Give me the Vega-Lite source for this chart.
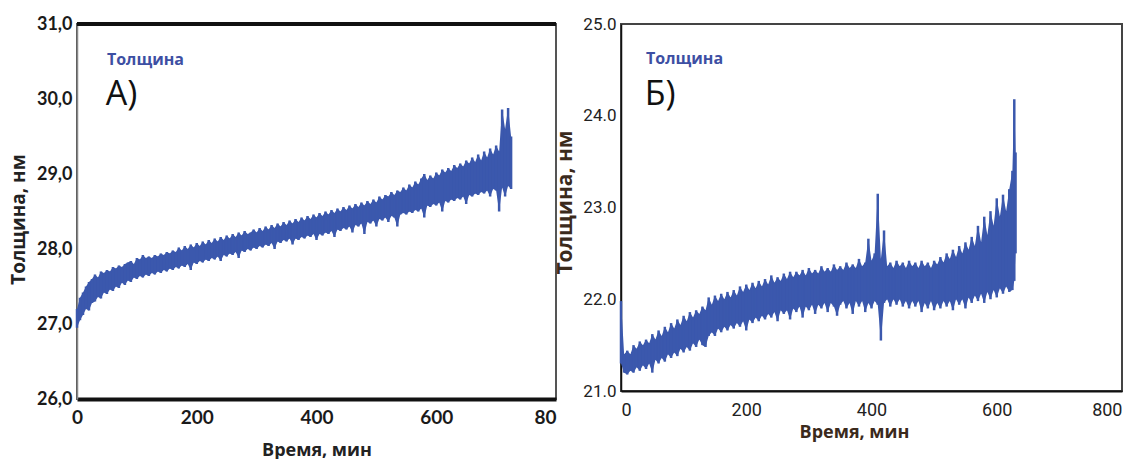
{
  "$schema": "https://vega.github.io/schema/vega-lite/v6.json",
  "background": "white",
  "padding": {"left": 8, "top": 14, "right": 10, "bottom": 5},
  "spacing": 65,
  "bounds": "flush",
  "config": {
    "axis": {"grid": false, "ticks": false}
  },
  "datasets": {
    "A": [
      {"t":0,"lo":26.95,"hi":27.2},{"t":5,"lo":27.05,"hi":27.35},{"t":10,"lo":27.12,"hi":27.42},{"t":15,"lo":27.2,"hi":27.5},
      {"t":20,"lo":27.18,"hi":27.56},{"t":25,"lo":27.28,"hi":27.6},{"t":30,"lo":27.3,"hi":27.66},{"t":35,"lo":27.36,"hi":27.62},
      {"t":40,"lo":27.34,"hi":27.7},{"t":45,"lo":27.42,"hi":27.68},{"t":50,"lo":27.4,"hi":27.72},{"t":55,"lo":27.46,"hi":27.7},
      {"t":60,"lo":27.44,"hi":27.76},{"t":65,"lo":27.5,"hi":27.74},{"t":70,"lo":27.48,"hi":27.78},{"t":75,"lo":27.55,"hi":27.76},
      {"t":80,"lo":27.52,"hi":27.8},{"t":85,"lo":27.58,"hi":27.82},{"t":90,"lo":27.56,"hi":27.84},{"t":95,"lo":27.62,"hi":27.8},
      {"t":100,"lo":27.6,"hi":27.88},{"t":105,"lo":27.64,"hi":27.86},{"t":110,"lo":27.62,"hi":27.92},{"t":115,"lo":27.66,"hi":27.88},
      {"t":120,"lo":27.64,"hi":27.9},{"t":125,"lo":27.68,"hi":27.88},{"t":130,"lo":27.66,"hi":27.92},{"t":135,"lo":27.7,"hi":27.9},
      {"t":140,"lo":27.68,"hi":27.94},{"t":145,"lo":27.72,"hi":27.92},{"t":150,"lo":27.7,"hi":27.96},{"t":155,"lo":27.74,"hi":27.94},
      {"t":160,"lo":27.72,"hi":27.98},{"t":165,"lo":27.76,"hi":27.96},{"t":170,"lo":27.74,"hi":28.02},{"t":175,"lo":27.78,"hi":27.98},
      {"t":180,"lo":27.76,"hi":28.04},{"t":185,"lo":27.8,"hi":28.0},{"t":190,"lo":27.72,"hi":28.06},{"t":195,"lo":27.82,"hi":28.02},
      {"t":200,"lo":27.8,"hi":28.08},{"t":205,"lo":27.84,"hi":28.04},{"t":210,"lo":27.82,"hi":28.1},{"t":215,"lo":27.86,"hi":28.06},
      {"t":220,"lo":27.84,"hi":28.12},{"t":225,"lo":27.88,"hi":28.08},{"t":230,"lo":27.86,"hi":28.14},{"t":235,"lo":27.9,"hi":28.1},
      {"t":240,"lo":27.84,"hi":28.16},{"t":245,"lo":27.92,"hi":28.12},{"t":250,"lo":27.9,"hi":28.18},{"t":255,"lo":27.94,"hi":28.14},
      {"t":260,"lo":27.92,"hi":28.2},{"t":265,"lo":27.96,"hi":28.16},{"t":270,"lo":27.88,"hi":28.22},{"t":275,"lo":27.98,"hi":28.18},
      {"t":280,"lo":27.96,"hi":28.24},{"t":285,"lo":28.0,"hi":28.2},{"t":290,"lo":27.98,"hi":28.22},{"t":295,"lo":28.02,"hi":28.26},
      {"t":300,"lo":28.0,"hi":28.22},{"t":305,"lo":28.04,"hi":28.28},{"t":310,"lo":28.02,"hi":28.24},{"t":315,"lo":28.06,"hi":28.3},
      {"t":320,"lo":28.04,"hi":28.26},{"t":325,"lo":28.08,"hi":28.32},{"t":330,"lo":28.0,"hi":28.28},{"t":335,"lo":28.1,"hi":28.34},
      {"t":340,"lo":28.08,"hi":28.3},{"t":345,"lo":28.12,"hi":28.36},{"t":350,"lo":28.1,"hi":28.32},{"t":355,"lo":28.14,"hi":28.38},
      {"t":360,"lo":28.06,"hi":28.34},{"t":365,"lo":28.14,"hi":28.4},{"t":370,"lo":28.12,"hi":28.36},{"t":375,"lo":28.16,"hi":28.42},
      {"t":380,"lo":28.14,"hi":28.38},{"t":385,"lo":28.18,"hi":28.44},{"t":390,"lo":28.16,"hi":28.4},{"t":395,"lo":28.2,"hi":28.46},
      {"t":400,"lo":28.12,"hi":28.42},{"t":405,"lo":28.2,"hi":28.48},{"t":410,"lo":28.18,"hi":28.44},{"t":415,"lo":28.22,"hi":28.5},
      {"t":420,"lo":28.2,"hi":28.46},{"t":425,"lo":28.24,"hi":28.52},{"t":430,"lo":28.16,"hi":28.48},{"t":435,"lo":28.26,"hi":28.54},
      {"t":440,"lo":28.24,"hi":28.5},{"t":445,"lo":28.28,"hi":28.56},{"t":450,"lo":28.26,"hi":28.52},{"t":455,"lo":28.3,"hi":28.58},
      {"t":460,"lo":28.22,"hi":28.54},{"t":465,"lo":28.32,"hi":28.6},{"t":470,"lo":28.3,"hi":28.56},{"t":475,"lo":28.34,"hi":28.62},
      {"t":480,"lo":28.2,"hi":28.58},{"t":485,"lo":28.36,"hi":28.64},{"t":490,"lo":28.34,"hi":28.6},{"t":495,"lo":28.38,"hi":28.66},
      {"t":500,"lo":28.3,"hi":28.62},{"t":505,"lo":28.4,"hi":28.7},{"t":510,"lo":28.38,"hi":28.66},{"t":515,"lo":28.42,"hi":28.72},
      {"t":520,"lo":28.36,"hi":28.7},{"t":525,"lo":28.44,"hi":28.76},{"t":530,"lo":28.42,"hi":28.72},{"t":535,"lo":28.3,"hi":28.78},
      {"t":540,"lo":28.46,"hi":28.76},{"t":545,"lo":28.48,"hi":28.82},{"t":550,"lo":28.46,"hi":28.78},{"t":555,"lo":28.5,"hi":28.86},
      {"t":560,"lo":28.48,"hi":28.82},{"t":565,"lo":28.52,"hi":28.9},{"t":570,"lo":28.5,"hi":28.86},{"t":575,"lo":28.54,"hi":28.94},
      {"t":580,"lo":28.42,"hi":29.0},{"t":585,"lo":28.58,"hi":28.92},{"t":590,"lo":28.56,"hi":28.98},{"t":595,"lo":28.6,"hi":28.94},
      {"t":600,"lo":28.58,"hi":29.02},{"t":605,"lo":28.62,"hi":28.98},{"t":610,"lo":28.5,"hi":29.06},{"t":615,"lo":28.64,"hi":29.02},
      {"t":620,"lo":28.62,"hi":29.08},{"t":625,"lo":28.66,"hi":29.04},{"t":630,"lo":28.64,"hi":29.12},{"t":635,"lo":28.68,"hi":29.08},
      {"t":640,"lo":28.66,"hi":29.14},{"t":645,"lo":28.7,"hi":29.1},{"t":650,"lo":28.6,"hi":29.18},{"t":655,"lo":28.72,"hi":29.14},
      {"t":660,"lo":28.7,"hi":29.22},{"t":665,"lo":28.74,"hi":29.16},{"t":670,"lo":28.72,"hi":29.26},{"t":675,"lo":28.76,"hi":29.18},
      {"t":680,"lo":28.74,"hi":29.3},{"t":685,"lo":28.78,"hi":29.22},{"t":690,"lo":28.7,"hi":29.34},{"t":695,"lo":28.8,"hi":29.26},
      {"t":700,"lo":28.78,"hi":29.38},{"t":705,"lo":28.5,"hi":29.3},{"t":710,"lo":28.82,"hi":29.86},{"t":715,"lo":28.7,"hi":29.6},
      {"t":720,"lo":28.84,"hi":29.88},{"t":725,"lo":28.8,"hi":29.5}
    ],
    "B": [
      {"t":0,"lo":21.3,"hi":21.98},{"t":5,"lo":21.2,"hi":21.4},{"t":10,"lo":21.18,"hi":21.44},{"t":15,"lo":21.22,"hi":21.4},
      {"t":20,"lo":21.2,"hi":21.5},{"t":25,"lo":21.26,"hi":21.46},{"t":30,"lo":21.22,"hi":21.54},{"t":35,"lo":21.28,"hi":21.5},
      {"t":40,"lo":21.24,"hi":21.56},{"t":45,"lo":21.3,"hi":21.52},{"t":50,"lo":21.2,"hi":21.62},{"t":55,"lo":21.34,"hi":21.56},
      {"t":60,"lo":21.3,"hi":21.66},{"t":65,"lo":21.36,"hi":21.6},{"t":70,"lo":21.32,"hi":21.7},{"t":75,"lo":21.4,"hi":21.64},
      {"t":80,"lo":21.36,"hi":21.74},{"t":85,"lo":21.42,"hi":21.68},{"t":90,"lo":21.38,"hi":21.78},{"t":95,"lo":21.46,"hi":21.72},
      {"t":100,"lo":21.42,"hi":21.82},{"t":105,"lo":21.48,"hi":21.76},{"t":110,"lo":21.44,"hi":21.86},{"t":115,"lo":21.52,"hi":21.8},
      {"t":120,"lo":21.48,"hi":21.88},{"t":125,"lo":21.56,"hi":21.84},{"t":130,"lo":21.5,"hi":21.92},{"t":135,"lo":21.48,"hi":21.88},
      {"t":140,"lo":21.6,"hi":22.02},{"t":145,"lo":21.64,"hi":21.94},{"t":150,"lo":21.6,"hi":22.04},{"t":155,"lo":21.68,"hi":21.98},
      {"t":160,"lo":21.64,"hi":22.06},{"t":165,"lo":21.7,"hi":22.0},{"t":170,"lo":21.66,"hi":22.08},{"t":175,"lo":21.72,"hi":22.02},
      {"t":180,"lo":21.68,"hi":22.1},{"t":185,"lo":21.74,"hi":22.04},{"t":190,"lo":21.7,"hi":22.14},{"t":195,"lo":21.76,"hi":22.08},
      {"t":200,"lo":21.66,"hi":22.16},{"t":205,"lo":21.78,"hi":22.1},{"t":210,"lo":21.74,"hi":22.18},{"t":215,"lo":21.8,"hi":22.12},
      {"t":220,"lo":21.76,"hi":22.2},{"t":225,"lo":21.82,"hi":22.14},{"t":230,"lo":21.78,"hi":22.22},{"t":235,"lo":21.84,"hi":22.16},
      {"t":240,"lo":21.8,"hi":22.26},{"t":245,"lo":21.86,"hi":22.18},{"t":250,"lo":21.76,"hi":22.24},{"t":255,"lo":21.88,"hi":22.2},
      {"t":260,"lo":21.84,"hi":22.28},{"t":265,"lo":21.88,"hi":22.22},{"t":270,"lo":21.78,"hi":22.3},{"t":275,"lo":21.9,"hi":22.24},
      {"t":280,"lo":21.86,"hi":22.3},{"t":285,"lo":21.92,"hi":22.26},{"t":290,"lo":21.8,"hi":22.32},{"t":295,"lo":21.92,"hi":22.26},
      {"t":300,"lo":21.88,"hi":22.34},{"t":305,"lo":21.94,"hi":22.28},{"t":310,"lo":21.84,"hi":22.32},{"t":315,"lo":21.94,"hi":22.28},
      {"t":320,"lo":21.9,"hi":22.36},{"t":325,"lo":21.96,"hi":22.3},{"t":330,"lo":21.86,"hi":22.34},{"t":335,"lo":21.96,"hi":22.3},
      {"t":340,"lo":21.92,"hi":22.38},{"t":345,"lo":21.82,"hi":22.32},{"t":350,"lo":21.94,"hi":22.36},{"t":355,"lo":21.98,"hi":22.32},
      {"t":360,"lo":21.9,"hi":22.4},{"t":365,"lo":21.96,"hi":22.34},{"t":370,"lo":21.84,"hi":22.38},{"t":375,"lo":21.98,"hi":22.34},
      {"t":380,"lo":21.92,"hi":22.44},{"t":385,"lo":21.98,"hi":22.36},{"t":390,"lo":21.86,"hi":22.4},{"t":395,"lo":21.96,"hi":22.66},
      {"t":400,"lo":21.9,"hi":22.42},{"t":405,"lo":21.98,"hi":22.5},{"t":410,"lo":21.94,"hi":23.15},{"t":415,"lo":21.55,"hi":22.44},
      {"t":420,"lo":21.96,"hi":22.75},{"t":425,"lo":22.0,"hi":22.36},{"t":430,"lo":21.92,"hi":22.4},{"t":435,"lo":22.0,"hi":22.34},
      {"t":440,"lo":21.94,"hi":22.42},{"t":445,"lo":22.0,"hi":22.36},{"t":450,"lo":21.92,"hi":22.4},{"t":455,"lo":21.98,"hi":22.34},
      {"t":460,"lo":21.9,"hi":22.42},{"t":465,"lo":21.98,"hi":22.36},{"t":470,"lo":21.92,"hi":22.4},{"t":475,"lo":21.98,"hi":22.34},
      {"t":480,"lo":21.86,"hi":22.42},{"t":485,"lo":21.96,"hi":22.36},{"t":490,"lo":21.9,"hi":22.4},{"t":495,"lo":21.98,"hi":22.34},
      {"t":500,"lo":21.88,"hi":22.42},{"t":505,"lo":21.96,"hi":22.38},{"t":510,"lo":21.9,"hi":22.46},{"t":515,"lo":21.98,"hi":22.4},
      {"t":520,"lo":21.92,"hi":22.5},{"t":525,"lo":21.98,"hi":22.44},{"t":530,"lo":21.88,"hi":22.54},{"t":535,"lo":22.0,"hi":22.46},
      {"t":540,"lo":21.94,"hi":22.58},{"t":545,"lo":22.0,"hi":22.5},{"t":550,"lo":21.9,"hi":22.62},{"t":555,"lo":22.02,"hi":22.54},
      {"t":560,"lo":21.96,"hi":22.68},{"t":565,"lo":22.04,"hi":22.58},{"t":570,"lo":21.98,"hi":22.8},{"t":575,"lo":22.06,"hi":22.62},
      {"t":580,"lo":21.96,"hi":22.9},{"t":585,"lo":22.08,"hi":22.7},{"t":590,"lo":22.0,"hi":22.96},{"t":595,"lo":22.1,"hi":22.8},
      {"t":600,"lo":22.02,"hi":23.1},{"t":605,"lo":22.12,"hi":22.9},{"t":610,"lo":22.06,"hi":23.14},{"t":615,"lo":22.14,"hi":22.96},
      {"t":620,"lo":22.08,"hi":23.2},{"t":625,"lo":22.1,"hi":23.4},{"t":628,"lo":22.2,"hi":24.18},{"t":630,"lo":22.5,"hi":23.6}
    ]
  },
  "hconcat": [
    {
      "width": 479,
      "height": 375,
      "view": {"stroke": "#555555", "strokeWidth": 2},
      "layer": [
        {
          "data": {"name": "A"},
          "mark": {"type": "area", "color": "#3b58ad"},
          "encoding": {
            "x": {"field": "t", "type": "quantitative", "scale": {"domain": [0, 800]},
              "axis": {"values": [0, 200, 400, 600, 800], "title": "Время, мин", "domainColor": "#111111", "domainWidth": 4,
                "labelFont": "Lato", "labelFontWeight": "bold", "labelFontSize": 19, "labelColor": "#1a1a1a", "labelPadding": 9,
                "labelExpr": "datum.value == 800 ? '80' : datum.label",
                "labelAlign": {"condition": {"test": "datum.value == 800", "value": "right"}, "value": "center"},
                "titleFont": "Open Sans", "titleFontWeight": "bold", "titleFontSize": 18, "titleColor": "#222222", "titlePadding": 14}},
            "y": {"field": "lo", "type": "quantitative", "scale": {"domain": [26, 31]},
              "axis": {"values": [26, 27, 28, 29, 30, 31], "title": "Толщина, нм", "domainColor": "#888888", "domainWidth": 1.5,
                "labelFont": "Lato", "labelFontWeight": "bold", "labelFontSize": 18, "labelColor": "#1a1a1a", "labelPadding": 5,
                "labelExpr": "replace(format(datum.value, '.1f'), '.', ',')",
                "titleFont": "Open Sans", "titleFontWeight": "bold", "titleFontSize": 19, "titleColor": "#222222", "titlePadding": 8, "titleY": 195}},
            "y2": {"field": "hi"}
          }
        },
        {
          "data": {"name": "A"},
          "mark": {"type": "rule", "color": "#3b58ad", "strokeWidth": 2.5},
          "encoding": {
            "x": {"field": "t", "type": "quantitative"},
            "y": {"field": "lo", "type": "quantitative"},
            "y2": {"field": "hi"}
          }
        },
        {
          "data": {"values": [{}]},
          "mark": {"type": "rule", "color": "#111111", "strokeWidth": 4},
          "encoding": {"y": {"datum": 31}}
        },
        {
          "data": {"values": [{"t": 50, "v": 30.52, "label": "Толщина"}]},
          "mark": {"type": "text", "align": "left", "baseline": "middle", "font": "Open Sans", "fontWeight": "bold", "fontSize": 16, "color": "#3d4fa3"},
          "encoding": {
            "x": {"field": "t", "type": "quantitative"},
            "y": {"field": "v", "type": "quantitative"},
            "text": {"field": "label"}
          }
        },
        {
          "data": {"values": [{"t": 48, "v": 30.05, "label": "А)"}]},
          "mark": {"type": "text", "align": "left", "baseline": "middle", "font": "Open Sans", "fontSize": 34, "color": "#111111"},
          "encoding": {
            "x": {"field": "t", "type": "quantitative"},
            "y": {"field": "v", "type": "quantitative"},
            "text": {"field": "label"}
          }
        }
      ]
    },
    {
      "width": 501,
      "height": 367,
      "view": {"stroke": "#444444", "strokeWidth": 2},
      "layer": [
        {
          "data": {"name": "B"},
          "mark": {"type": "area", "color": "#3b58ad"},
          "encoding": {
            "x": {"field": "t", "type": "quantitative", "scale": {"domain": [0, 800]},
              "axis": {"values": [0, 200, 400, 600, 800], "title": "Время, мин", "domainColor": "#111111", "domainWidth": 2,
                "labelFont": "Roboto", "labelFontWeight": "normal", "labelFontSize": 18, "labelColor": "#222222", "labelPadding": 10,
                "titleFont": "Open Sans", "titleFontWeight": "bold", "titleFontSize": 18, "titleColor": "#3b2a1c", "titlePadding": 4, "titleX": 233}},
            "y": {"field": "lo", "type": "quantitative", "scale": {"domain": [21, 25]},
              "axis": {"values": [21, 22, 23, 24, 25], "format": ".1f", "title": "Толщина, нм", "domainColor": "#111111", "domainWidth": 1.5,
                "labelFont": "Roboto", "labelFontWeight": "normal", "labelFontSize": 17, "labelColor": "#222222", "labelPadding": 5,
                "titleFont": "Open Sans", "titleFontWeight": "bold", "titleFontSize": 21, "titleColor": "#3b2a1c", "titlePadding": 7, "titleY": 178}},
            "y2": {"field": "hi"}
          }
        },
        {
          "data": {"name": "B"},
          "mark": {"type": "rule", "color": "#3b58ad", "strokeWidth": 2.5},
          "encoding": {
            "x": {"field": "t", "type": "quantitative"},
            "y": {"field": "lo", "type": "quantitative"},
            "y2": {"field": "hi"}
          }
        },
        {
          "data": {"values": [{"t": 40, "v": 24.62, "label": "Толщина"}]},
          "mark": {"type": "text", "align": "left", "baseline": "middle", "font": "Open Sans", "fontWeight": "bold", "fontSize": 16, "color": "#3d4fa3"},
          "encoding": {
            "x": {"field": "t", "type": "quantitative"},
            "y": {"field": "v", "type": "quantitative"},
            "text": {"field": "label"}
          }
        },
        {
          "data": {"values": [{"t": 38, "v": 24.23, "label": "Б)"}]},
          "mark": {"type": "text", "align": "left", "baseline": "middle", "font": "Open Sans", "fontSize": 34, "color": "#111111"},
          "encoding": {
            "x": {"field": "t", "type": "quantitative"},
            "y": {"field": "v", "type": "quantitative"},
            "text": {"field": "label"}
          }
        }
      ]
    }
  ]
}
